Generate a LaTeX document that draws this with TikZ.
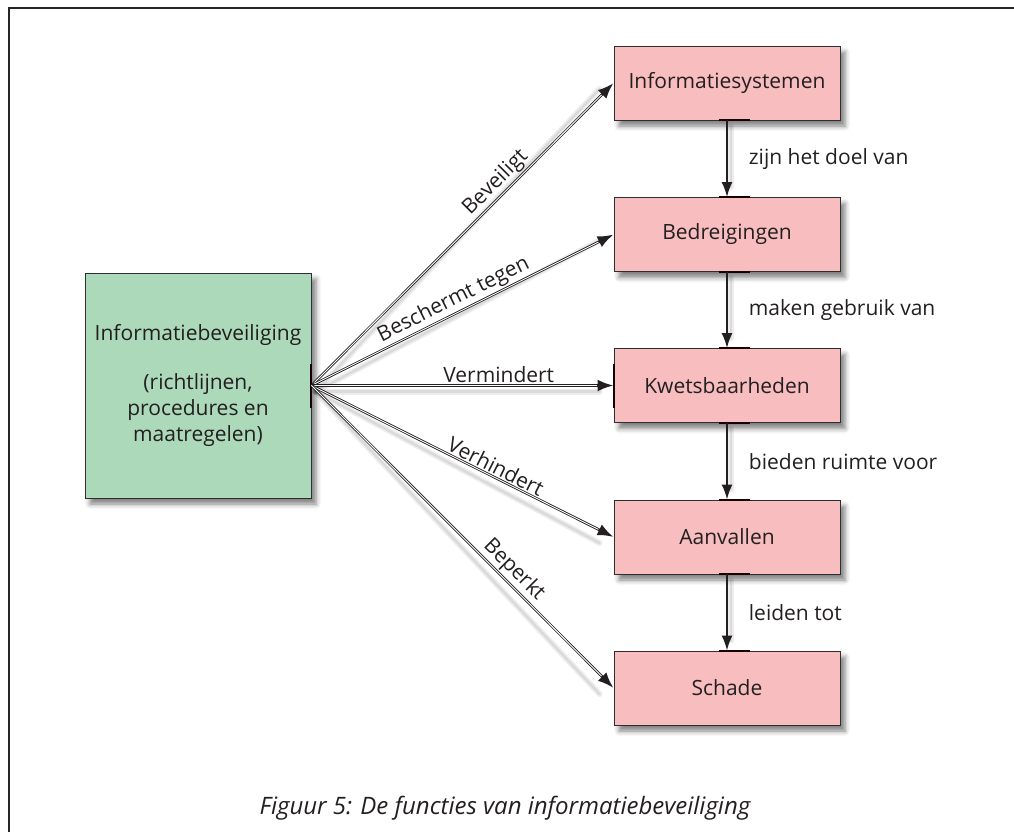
\documentclass[tikz,border=0pt]{standalone}
\usepackage{fontspec}
\setmainfont{Open Sans}
\usetikzlibrary{arrows.meta,shadows.blur}

\definecolor{greenbox}{HTML}{ABD9B9}
\definecolor{pinkbox}{HTML}{F7BDBF}
\definecolor{edge}{HTML}{2E2E2E}
\definecolor{ink}{HTML}{231F20}

\tikzset{
  every node/.style={text=ink},
  boxbase/.style={draw=edge, line width=0.9pt, inner sep=0pt, align=center,
    font=\fontsize{21}{26}\selectfont,
    blur shadow={shadow xshift=5pt, shadow yshift=-6pt, shadow blur radius=5pt, shadow opacity=50}},
  stagebox/.style={boxbase, fill=pinkbox, minimum width=226pt, minimum height=74pt},
  mainbox/.style={boxbase, fill=greenbox, minimum width=226pt, minimum height=225pt},
  % double connector: dark outer stroke with tip, white core on top
  relation/.style={
    preaction={draw=ink, line width=2.6pt, shorten >=0pt, -{Latex[length=16pt,width=12pt]}},
    draw=white, line width=0.9pt, shorten >=17pt},
  lineshadow/.style={draw=black, line cap=round, line width=6pt, opacity=0.07,
    postaction={draw=black, line width=2.5pt, opacity=0.08}},
  chain/.style={draw=ink, line width=1.8pt, -{Latex[length=15pt,width=11pt]}},
  rellabel/.style={sloped, above, inner sep=2pt, font=\fontsize{21}{24}\selectfont},
  chainlabel/.style={anchor=west, inner sep=0pt, xshift=21pt, font=\fontsize{21}{24}\selectfont},
  glue/.style={draw=black!90!red, line width=2pt},
}

\begin{document}
\begin{tikzpicture}[x=1pt,y=-1pt]
  \useasboundingbox (0,0) rectangle (1014,832);

  % page frame (open to the right and bottom)
  \draw[line width=1.2pt, black!85] (1016,8) -- (9,8) -- (9,834);

  % boxes
  \node[mainbox] (main) at (198,385.5)
    {Informatiebeveiliging\\[23pt](richtlijnen,\\procedures en\\maatregelen)};
  \node[stagebox] (sys)    at (727,83)    {Informatiesystemen};
  \node[stagebox] (threat) at (727,234.5) {Bedreigingen};
  \node[stagebox] (vuln)   at (727,385.5) {Kwetsbaarheden};
  \node[stagebox] (attack) at (727,537)   {Aanvallen};
  \node[stagebox] (damage) at (727,688)   {Schade};

  % soft shadows beneath the connectors
  \foreach \t in {sys,threat,vuln,attack,damage}
    \draw[lineshadow] ([shift={(4,6)}]main.east) -- ([shift={(-14,6)}]\t.west);
  \draw[lineshadow] ([shift={(4,6)}]sys.south) -- ([shift={(4,-10)}]threat.north);
  \draw[lineshadow] ([shift={(4,6)}]threat.south) -- ([shift={(4,-10)}]vuln.north);
  \draw[lineshadow] ([shift={(4,6)}]vuln.south) -- ([shift={(4,-10)}]attack.north);
  \draw[lineshadow] ([shift={(4,6)}]attack.south) -- ([shift={(4,-10)}]damage.north);

  % connection points on the box edges
  \draw[glue] ([xshift=-8pt]sys.south) -- ([xshift=23pt]sys.south);
  \draw[glue] ([xshift=-8pt]threat.north) -- ([xshift=23pt]threat.north);
  \draw[glue] ([xshift=-8pt]threat.south) -- ([xshift=23pt]threat.south);
  \draw[glue] ([xshift=-8pt]vuln.north) -- ([xshift=23pt]vuln.north);
  \draw[glue] ([xshift=-8pt]vuln.south) -- ([xshift=23pt]vuln.south);
  \draw[glue] ([xshift=-8pt]attack.north) -- ([xshift=23pt]attack.north);
  \draw[glue] ([xshift=-8pt]attack.south) -- ([xshift=23pt]attack.south);
  \draw[glue] ([xshift=-8pt]damage.north) -- ([xshift=23pt]damage.north);
  \draw[glue] ([yshift=22pt]vuln.west) -- ([yshift=-22pt]vuln.west);
  \draw[glue] ([yshift=22pt]main.east) -- ([yshift=-22pt]main.east);

  % relations from the policy box
  \draw[relation] (main.east) -- node[rellabel, pos=0.64] {Beveiligt} (sys.west);
  \draw[relation] (main.east) -- node[rellabel, pos=0.49] {Beschermt tegen} (threat.west);
  \draw[relation] (main.east) -- node[rellabel, pos=0.62] {Vermindert} (vuln.west);
  \draw[relation] (main.east) -- node[rellabel, pos=0.595] {Verhindert} (attack.west);
  \draw[relation] (main.east) -- node[rellabel, pos=0.64] {Beperkt} (damage.west);

  % causal chain
  \draw[chain] (sys.south) -- node[chainlabel] {zijn het doel van} (threat.north);
  \draw[chain] (threat.south) -- node[chainlabel] {maken gebruik van} (vuln.north);
  \draw[chain] (vuln.south) -- node[chainlabel] {bieden ruimte voor} (attack.north);
  \draw[chain] (attack.south) -- node[chainlabel] {leiden tot} (damage.north);

  % caption
  \node[font=\fontsize{24}{27}\selectfont\itshape] (caption) at (505,808)
    {Figuur 5: De functies van informatiebeveiliging};
\end{tikzpicture}
\end{document}
